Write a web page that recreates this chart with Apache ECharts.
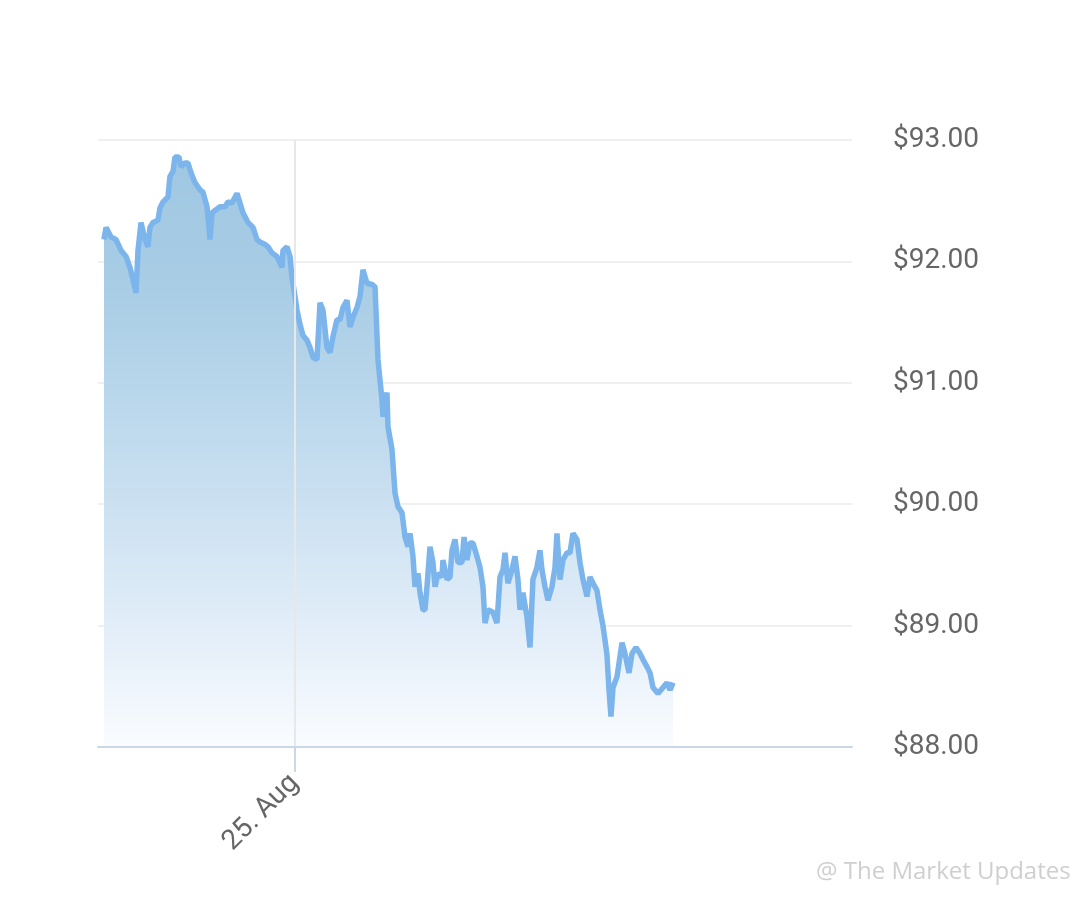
<!DOCTYPE html>
<html>
<head>
<meta charset="utf-8">
<script src="https://cdn.jsdelivr.net/npm/echarts@6/dist/echarts.min.js"></script>
<style>html,body{margin:0;padding:0;background:#fff}#c{width:1080px;height:898px}</style>
</head>
<body>
<div id="c"></div>
<script>
// Hours elapsed since 24 Aug 00:00
const hours = [0.73,0.98,1.59,2.20,2.81,3.42,3.90,4.27,4.64,4.88,5.25,5.73,6.10,6.34,6.71,7.32,7.56,7.93,8.54,8.78,
9.15,9.39,9.88,10.13,10.61,10.98,11.35,11.83,12.44,12.81,13.30,13.67,13.91,14.28,14.89,15.50,15.86,16.35,16.96,17.33,
17.69,18.30,18.91,19.40,19.77,20.38,20.74,21.23,21.84,22.45,22.57,23.06,23.43,23.67,24.04,24.28,24.65,25.01,25.50,25.87,
26.23,26.72,27.09,27.45,27.94,28.31,28.67,29.16,29.53,29.89,30.38,30.75,31.11,31.60,31.97,32.33,32.82,33.43,33.80,34.16,
34.65,34.77,35.26,35.38,35.87,36.24,36.60,37.09,37.46,37.82,38.07,38.43,38.68,39.04,39.29,39.65,39.90,40.14,40.51,40.87,
41.12,41.48,41.97,42.09,42.58,42.95,43.19,43.56,43.92,44.41,44.66,45.02,45.39,45.75,46.24,46.61,46.97,47.22,47.58,48.19,
48.68,49.05,49.41,49.66,50.02,50.51,50.88,51.24,51.49,51.85,52.34,52.71,53.07,53.56,53.93,54.17,54.54,54.90,55.39,55.76,
56.00,56.37,56.73,57.22,57.59,57.95,58.44,58.81,59.17,59.66,60.03,60.39,60.88,61.25,61.61,61.86,62.10,62.35,62.59,62.84,
63.33,63.94,64.30,64.79,65.16,65.64,66.13,66.50,66.99,67.36,67.72,68.33,68.94,69.43,69.80,70.17];
const prices = [92.18,92.28,92.20,92.18,92.09,92.04,91.95,91.85,91.74,92.09,92.32,92.18,92.12,92.28,92.32,92.34,92.44,92.49,92.53,92.70,
92.74,92.86,92.86,92.78,92.81,92.81,92.73,92.65,92.59,92.57,92.45,92.18,92.40,92.42,92.45,92.45,92.49,92.48,92.56,92.48,
92.40,92.32,92.28,92.18,92.16,92.14,92.12,92.07,92.04,91.95,92.09,92.12,92.04,91.87,91.71,91.60,91.48,91.39,91.35,91.29,
91.21,91.19,91.66,91.60,91.29,91.25,91.38,91.52,91.52,91.62,91.68,91.46,91.54,91.62,91.71,91.93,91.82,91.81,91.79,91.19,
90.86,90.72,90.92,90.64,90.45,90.09,89.98,89.93,89.73,89.65,89.76,89.57,89.32,89.43,89.27,89.13,89.13,89.32,89.65,89.52,
89.32,89.43,89.40,89.54,89.38,89.40,89.62,89.71,89.52,89.52,89.73,89.54,89.68,89.68,89.57,89.48,89.32,89.02,89.13,89.11,
89.02,89.40,89.46,89.60,89.35,89.46,89.57,89.38,89.13,89.27,89.07,88.82,89.38,89.48,89.62,89.46,89.32,89.21,89.32,89.48,
89.76,89.38,89.54,89.60,89.60,89.76,89.71,89.52,89.38,89.24,89.40,89.35,89.29,89.13,89.00,88.88,88.76,88.47,88.25,88.49,
88.58,88.86,88.77,88.61,88.77,88.82,88.77,88.72,88.66,88.61,88.49,88.44,88.49,88.53,88.47,88.53];
const tickHours = [24];
const tickLabels = ['25. Aug'];
const yTicks = [88, 89, 90, 91, 92, 93];

const chart = echarts.init(document.getElementById('c'), null, {renderer: 'canvas'});
const data = hours.map((h, i) => [h, prices[i]]);
chart.setOption({
  animation: false,
  backgroundColor: '#ffffff',
  grid: {left: 98, right: 228, top: 140, bottom: 151},
  xAxis: {
    type: 'value', min: 0, max: 92, z: 5,
    axisLine: {show: true, onZero: false, lineStyle: {color: '#ccd6eb', width: 2}},
    axisTick: {show: true, customValues: tickHours, length: 25, lineStyle: {color: '#ccd6eb', width: 2}},
    axisLabel: {
      customValues: tickHours, rotate: 45, margin: 32,
      formatter: v => tickLabels[tickHours.indexOf(v)] || '',
      color: '#666666', fontSize: 28, fontFamily: 'Roboto'
    },
    splitLine: {show: true, customValues: tickHours, lineStyle: {color: '#e8e8e8', width: 2}}
  },
  yAxis: {
    type: 'value', position: 'right', min: yTicks[0], max: yTicks[yTicks.length - 1], interval: 1,
    axisLine: {show: false}, axisTick: {show: false},
    axisLabel: {margin: 41, color: '#666666', fontSize: 28, fontFamily: 'Roboto',
      formatter: v => '$' + v.toFixed(2)},
    splitLine: {lineStyle: {color: '#f0f0f0', width: 2}}
  },
  series: [{
    type: 'line', data: data, showSymbol: false, symbol: 'none',
    lineStyle: {color: '#7cb5ec', width: 5.5},
    areaStyle: {
      origin: 'start', opacity: 1,
      color: new echarts.graphic.LinearGradient(0, 0, 0, 1, [
        {offset: 0, color: 'rgb(160,199,226)'},
        {offset: 0.22, color: 'rgb(168,205,229)'},
        {offset: 0.58, color: 'rgb(202,224,241)'},
        {offset: 0.85, color: 'rgb(232,241,250)'},
        {offset: 1, color: 'rgb(250,252,255)'}
      ])
    }
  }],
  graphic: [{
    type: 'text', left: 816, top: 860,
    style: {text: '@ The Market Updates', fontSize: 24, fontFamily: 'Open Sans', fill: '#cfcfcf'}
  }]
});
</script>
</body>
</html>
